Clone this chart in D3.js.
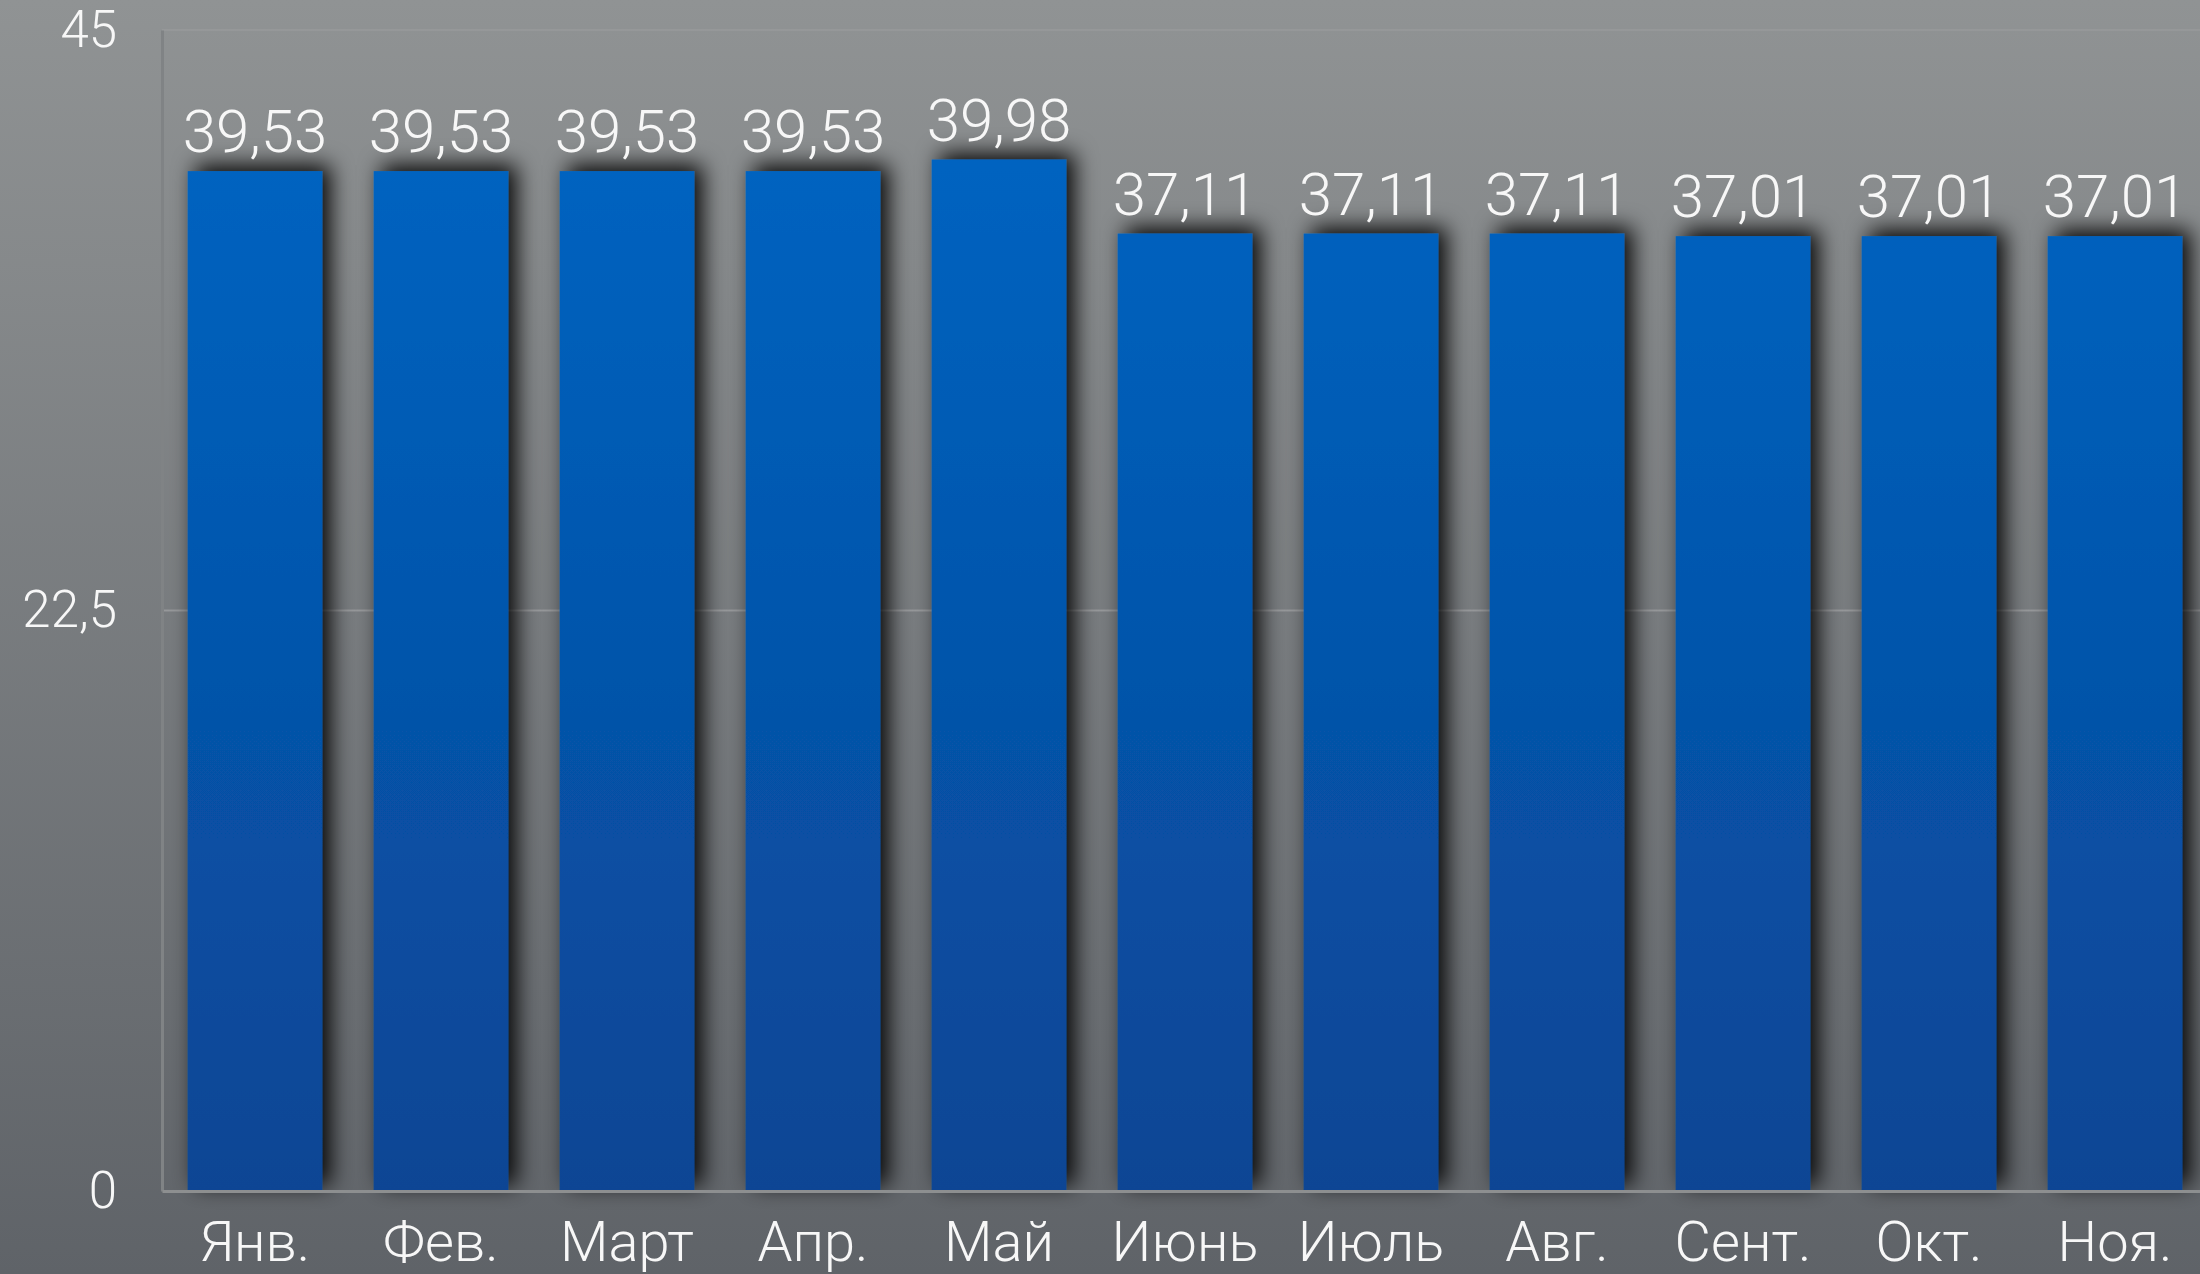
<!DOCTYPE html>
<html lang="ru">
    <head>
        <meta charset="utf-8">
        <title>Bar chart</title>
        <script type="text/javascript" src="https://cdnjs.cloudflare.com/ajax/libs/d3/7.8.5/d3.min.js"></script>
        <style>
            html, body { margin: 0; padding: 0; }
            body { width: 2200px; height: 1274px; overflow: hidden; }
            svg text { font-family: Roboto, "Noto Sans", "Liberation Sans", sans-serif; font-weight: 300; fill: #f7f7f7; }
        </style>
    </head>
    <body>
        <div id="chart"></div>
        <script type="text/javascript">
            // data
            var months = ["Янв.", "Фев.", "Март", "Апр.", "Май", "Июнь", "Июль", "Авг.", "Сент.", "Окт.", "Ноя."];
            var values = [39.53, 39.53, 39.53, 39.53, 39.98, 37.11, 37.11, 37.11, 37.01, 37.01, 37.01];
            var yTicks = [0, 22.5, 45];

            var width = 2200, height = 1274;
            var margin = { top: 30, right: -8, bottom: 83, left: 162 };

            // russian number format: comma as decimal mark
            var ru = d3.formatLocale({ decimal: ",", thousands: " ", grouping: [3], currency: ["", " ₽"] });
            var fmtValue = ru.format(".2f");
            var fmtTick = ru.format("~g");

            var svg = d3.select("#chart").append("svg")
                .attr("width", width)
                .attr("height", height);

            var defs = svg.append("defs");

            // background gradient
            var bg = defs.append("linearGradient").attr("id", "bg")
                .attr("x1", 0).attr("y1", 0).attr("x2", 0).attr("y2", 1);
            bg.append("stop").attr("offset", "0%").attr("stop-color", "#909394");
            bg.append("stop").attr("offset", "100%").attr("stop-color", "#5f6368");

            // bar gradient
            var barGrad = defs.append("linearGradient").attr("id", "barGrad")
                .attr("gradientUnits", "userSpaceOnUse")
                .attr("x1", 0).attr("y1", margin.top).attr("x2", 0).attr("y2", height - margin.bottom);
            barGrad.append("stop").attr("offset", "0%").attr("stop-color", "#0067c6");
            barGrad.append("stop").attr("offset", "100%").attr("stop-color", "#0a4594");

            // drop shadow under the bars, thrown up and to the right
            var shadow = defs.append("filter").attr("id", "shadow")
                .attr("x", "-30%").attr("y", "-10%").attr("width", "170%").attr("height", "120%");
            shadow.append("feDropShadow")
                .attr("dx", 8).attr("dy", -6)
                .attr("stdDeviation", 11)
                .attr("flood-color", "#000")
                .attr("flood-opacity", 0.95);

            svg.append("rect")
                .attr("width", width).attr("height", height)
                .attr("fill", "url(#bg)");

            var x = d3.scaleBand()
                .domain(months)
                .range([margin.left, width - margin.right])
                .paddingInner(0.276)
                .paddingOuter(0.138);

            var y = d3.scaleLinear()
                .domain([0, 45])
                .range([height - margin.bottom, margin.top]);

            // gridlines
            svg.append("g").selectAll("line")
                .data(yTicks.filter(function (d) { return d > 0; }))
                .enter().append("line")
                .attr("x1", margin.left).attr("x2", width)
                .attr("y1", function (d) { return y(d); })
                .attr("y2", function (d) { return y(d); })
                .attr("stroke", "#a2a4a5")
                .attr("stroke-opacity", function (d) { return d === 45 ? 0.35 : 0.7; })
                .attr("stroke-width", 2);

            // y axis labels
            var yAxis = d3.axisLeft(y)
                .tickValues(yTicks)
                .tickFormat(fmtTick)
                .tickSize(0)
                .tickPadding(45);
            var gy = svg.append("g")
                .attr("transform", "translate(" + margin.left + ",0)")
                .call(yAxis);
            gy.select(".domain").attr("stroke", "#808385").attr("stroke-width", 3);
            gy.selectAll("text").style("font-size", "51px");

            // bars
            svg.append("g").selectAll("rect")
                .data(values)
                .enter().append("rect")
                .attr("x", function (d, i) { return x(months[i]); })
                .attr("y", function (d) { return y(d); })
                .attr("width", x.bandwidth())
                .attr("height", function (d) { return y(0) - y(d); })
                .attr("fill", "url(#barGrad)")
                .attr("filter", "url(#shadow)");

            // x axis
            var xAxis = d3.axisBottom(x).tickSize(0).tickPadding(30);
            var gx = svg.append("g")
                .attr("transform", "translate(0," + y(0) + ")")
                .call(xAxis);
            gx.select(".domain").attr("stroke", "#8d8f90").attr("stroke-width", 3);
            gx.selectAll("text").style("font-size", "56px");

            // value labels
            svg.append("g").selectAll("text")
                .data(values)
                .enter().append("text")
                .attr("x", function (d, i) { return x(months[i]) + x.bandwidth() / 2; })
                .attr("y", function (d) { return y(d) - 19; })
                .attr("text-anchor", "middle")
                .style("font-size", "60px")
                .text(function (d) { return fmtValue(d); });
        </script>
    </body>
</html>
